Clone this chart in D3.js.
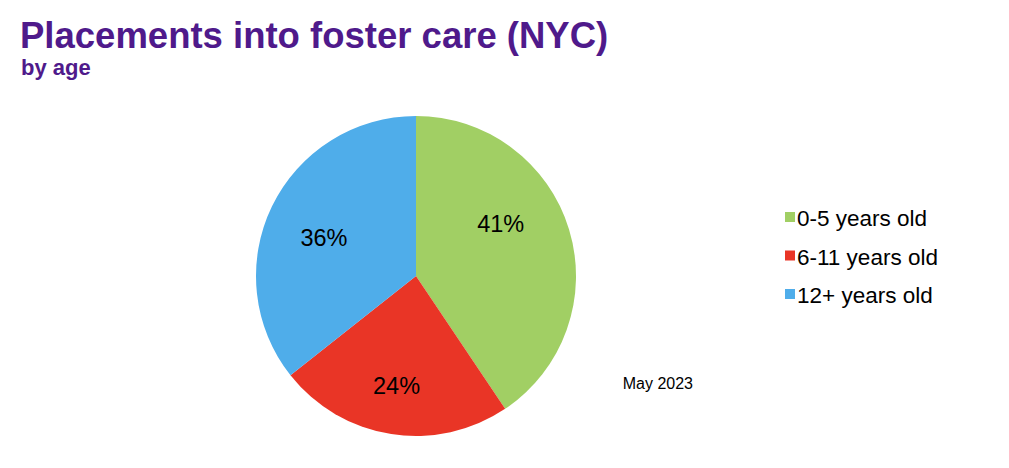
<!DOCTYPE html>
<html>
<head>
<meta charset="utf-8">
<script src="https://cdn.jsdelivr.net/npm/d3@7"></script>
<style>
  html, body { margin: 0; padding: 0; background: #fff; }
  svg { display: block; font-family: "Liberation Sans", Arial, Helvetica, sans-serif; }
</style>
</head>
<body>
<svg id="chart" width="1009" height="468"></svg>
<script>
// ---- data ----
const categories = ["0-5 years old", "6-11 years old", "12+ years old"];
const shares = [41, 24, 36];
const sliceColors = ["#a1cf64", "#e93526", "#4fadea"];
const titleText = "Placements into foster care (NYC)";
const subtitleText = "by age";
const noteText = "May 2023";

// ---- layout ----
const W = 1009, H = 468;
const cx = 416, cy = 276, radius = 160;
const labelRadius = 100;
const labelNudge = [[-11, -23], [-4, 11], [-2, 5]];

const svg = d3.select("#chart");

svg.append("text")
  .attr("x", 20).attr("y", 48)
  .attr("font-size", 36.5).attr("font-weight", "bold")
  .attr("fill", "#4f1a8b")
  .text(titleText);

svg.append("text")
  .attr("x", 21).attr("y", 75)
  .attr("font-size", 22).attr("font-weight", "bold")
  .attr("fill", "#4f1a8b")
  .text(subtitleText);

const pie = d3.pie().sort(null).value(d => d);
const arcs = pie(shares);
const arc = d3.arc().innerRadius(0).outerRadius(radius);
const labelArc = d3.arc().innerRadius(labelRadius).outerRadius(labelRadius);

const g = svg.append("g").attr("transform", `translate(${cx},${cy})`);

g.selectAll("path.slice")
  .data(arcs)
  .join("path")
  .attr("class", "slice")
  .attr("d", arc)
  .attr("fill", (d, i) => sliceColors[i]);

g.selectAll("text.pct")
  .data(arcs)
  .join("text")
  .attr("class", "pct")
  .attr("transform", (d, i) => {
    const [x, y] = labelArc.centroid(d);
    return `translate(${x + labelNudge[i][0]},${y + labelNudge[i][1]})`;
  })
  .attr("text-anchor", "middle")
  .attr("dy", "0.36em")
  .attr("font-size", 23.5)
  .attr("fill", "#000")
  .text(d => d.data + "%");

// legend
const legend = svg.append("g").attr("transform", "translate(785,218)");
const rowH = 38.5;
const rows = legend.selectAll("g.row")
  .data(categories)
  .join("g")
  .attr("class", "row")
  .attr("transform", (d, i) => `translate(0,${i * rowH})`);
rows.append("rect")
  .attr("x", 0).attr("y", -6)
  .attr("width", 10).attr("height", 10)
  .attr("fill", (d, i) => sliceColors[i]);
rows.append("text")
  .attr("x", 12).attr("y", 8)
  .attr("font-size", 22.5)
  .attr("fill", "#000")
  .text(d => d);

svg.append("text")
  .attr("x", 693).attr("y", 389)
  .attr("text-anchor", "end")
  .attr("font-size", 16)
  .attr("fill", "#000")
  .text(noteText);
</script>
</body>
</html>
